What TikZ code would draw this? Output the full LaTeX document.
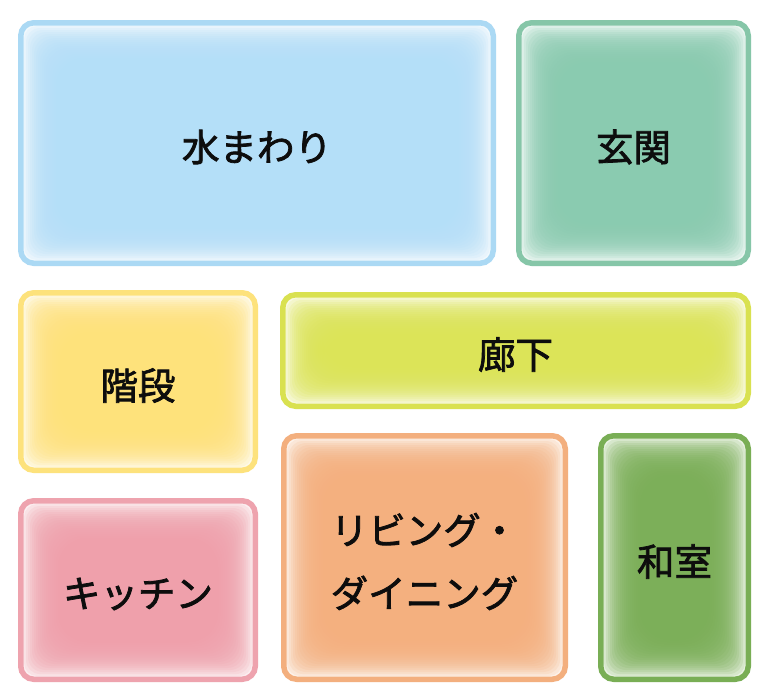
\documentclass[tikz,border=0pt]{standalone}
\usepackage{fontspec}
\newfontfamily\jp{Noto Sans CJK JP}[FakeBold=2]
\definecolor{fBlue}{HTML}{B4DFF8}\definecolor{bBlue}{HTML}{ABD9F4}
\definecolor{fMint}{HTML}{8ACBB0}\definecolor{bMint}{HTML}{86C6A8}
\definecolor{fYel}{HTML}{FEE27A}\definecolor{bYel}{HTML}{FDE27C}
\definecolor{fLime}{HTML}{DCE456}\definecolor{bLime}{HTML}{D9E150}
\definecolor{fPink}{HTML}{EFA0AB}\definecolor{bPink}{HTML}{EEA3AE}
\definecolor{fOra}{HTML}{F4B07E}\definecolor{bOra}{HTML}{F3AF7E}
\definecolor{fGrn}{HTML}{7BAF57}\definecolor{bGrn}{HTML}{79AE55}
\tikzset{
  roombox/.style={draw, line width=5.5pt, rounded corners=13pt, inner sep=0pt},
  roomtext/.style={align=center, text=black!95, inner sep=0pt,
    font=\jp\fontsize{37.5}{63}\selectfont}
}
% x1 y1 x2 y2 fill border name text
\newcommand\room[8]{%
  \fill[white, rounded corners=12pt] (#1+2.5,#2+2.5) rectangle (#3-2.5,#4-2.5);
  \foreach \d in {4,6,...,42}{%
    \pgfmathsetmacro\rr{10+0.5*\d}%
    \fill[#5, fill opacity=0.16, rounded corners=\rr pt] (#1+\d,#2+\d) rectangle (#3-\d,#4-\d);
  }%
  \node[roombox, draw=#6, minimum width={(#3-#1-5.5)*1pt}, minimum height={(#4-#2-5.5)*1pt}]
    (#7) at ({(#1+#3)/2},{(#2+#4)/2}) {};
  \node[roomtext] (#7-t) at ([yshift=-4pt]#7.center) {#8};
}
\begin{document}
\begin{tikzpicture}[x=1pt,y=-1pt]
\fill[white] (0,0) rectangle (768,697);
\useasboundingbox (0,0) rectangle (768,697);
\room{18}{20}{496}{266}{fBlue}{bBlue}{mizu}{水まわり}
\room{516}{20}{751}{266}{fMint}{bMint}{genkan}{玄関}
\room{18}{290}{258}{473}{fYel}{bYel}{kaidan}{階段}
\room{280}{292}{751}{409}{fLime}{bLime}{rouka}{廊下}
\room{18}{498}{258}{682}{fPink}{bPink}{kitchen}{キッチン}
\room{281}{433}{568}{682}{fOra}{bOra}{living}{リビング・\\ダイニング}
\room{598}{433}{751}{682}{fGrn}{bGrn}{washitsu}{和室}
\end{tikzpicture}
\end{document}
